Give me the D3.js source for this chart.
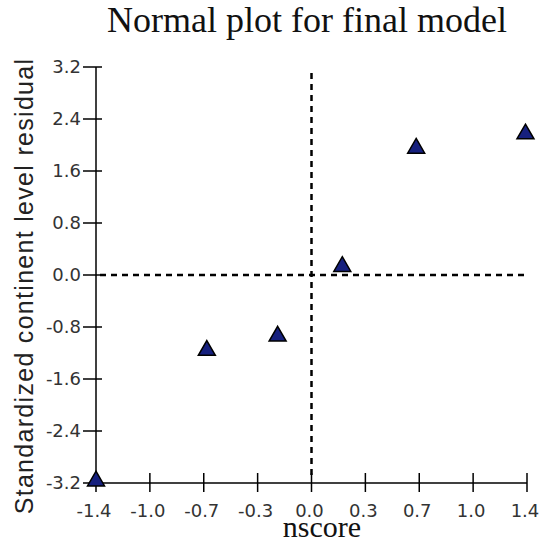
<!DOCTYPE html>
<html>
<head>
<meta charset="utf-8">
<script src="https://cdn.jsdelivr.net/npm/d3@7"></script>
<style>
  body { margin: 0; background: #fff; }
</style>
</head>
<body>
<div id="chart"></div>
<script>
// data
let nscore = [-1.40, -0.68, -0.22, 0.20, 0.68, 1.39];
let residual = [-3.17, -1.16, -0.94, 0.13, 1.95, 2.17];

let x_ticks = [-1.4, -1.05, -0.7, -0.35, 0, 0.35, 0.7, 1.05, 1.4];
let x_tick_labels = ["-1.4", "-1.0", "-0.7", "-0.3", "0.0", "0.3", "0.7", "1.0", "1.4"];
let y_ticks = [3.2, 2.4, 1.6, 0.8, 0.0, -0.8, -1.6, -2.4, -3.2];
let y_tick_labels = ["3.2", "2.4", "1.6", "0.8", "0.0", "-0.8", "-1.6", "-2.4", "-3.2"];

let width = 548, height = 546;
let margin = {left: 96, right: 21, top: 67, bottom: 63};

let svg = d3.select("#chart")
  .append("svg")
  .attr("width", width)
  .attr("height", height);

let x = d3.scaleLinear()
  .domain([-1.4, 1.4])
  .range([margin.left, width - margin.right]);

let y = d3.scaleLinear()
  .domain([-3.2, 3.2])
  .range([height - margin.bottom, margin.top]);

// title
svg.append("text")
  .attr("x", 307)
  .attr("y", 32)
  .style("text-anchor", "middle")
  .style("font-family", "'Liberation Serif', 'Times New Roman', serif")
  .style("font-size", "36px")
  .style("fill", "#111")
  .text("Normal plot for final model");

// reference lines at zero
svg.append("line")
  .attr("x1", x(-1.4) + 4).attr("x2", x(1.4))
  .attr("y1", y(0)).attr("y2", y(0))
  .attr("stroke", "#000")
  .attr("stroke-width", 2.5)
  .attr("stroke-dasharray", "6,5");

svg.append("line")
  .attr("x1", x(0)).attr("x2", x(0))
  .attr("y1", y(3.2) + 6).attr("y2", y(-3.2) - 8)
  .attr("stroke", "#000")
  .attr("stroke-width", 2.5)
  .attr("stroke-dasharray", "6,5");

// y axis
let y_axis = svg.append("g").attr("transform", "translate(" + x(-1.4) + ",0)");
y_axis.append("line")
  .attr("y1", y(3.2)).attr("y2", y(-3.2))
  .attr("stroke", "#000").attr("stroke-width", 1.5);
y_axis.selectAll(".ytick").data(y_ticks)
  .enter().append("line").attr("class", "ytick")
  .attr("x1", -13).attr("x2", 6)
  .attr("y1", d => y(d)).attr("y2", d => y(d))
  .attr("stroke", "#000").attr("stroke-width", 1.5);
y_axis.selectAll(".ylab").data(y_ticks)
  .enter().append("text").attr("class", "ylab")
  .attr("x", -15)
  .attr("y", d => y(d))
  .attr("dy", "0.36em")
  .style("text-anchor", "end")
  .style("font-family", "'DejaVu Sans', sans-serif")
  .style("font-size", "18px")
  .style("fill", "#333")
  .text((d, i) => y_tick_labels[i]);

// x axis
let x_axis = svg.append("g").attr("transform", "translate(0," + y(-3.2) + ")");
x_axis.append("line")
  .attr("x1", x(-1.4)).attr("x2", x(1.4))
  .attr("stroke", "#000").attr("stroke-width", 1.5);
x_axis.selectAll(".xtick").data(x_ticks)
  .enter().append("line").attr("class", "xtick")
  .attr("x1", d => x(d)).attr("x2", d => x(d))
  .attr("y1", -10).attr("y2", 9)
  .attr("stroke", "#000").attr("stroke-width", 1.5);
x_axis.selectAll(".xlab").data(x_ticks)
  .enter().append("text").attr("class", "xlab")
  .attr("x", d => x(d) - 2)
  .attr("y", 34)
  .style("text-anchor", "middle")
  .style("font-family", "'DejaVu Sans', sans-serif")
  .style("font-size", "18px")
  .style("fill", "#333")
  .text((d, i) => x_tick_labels[i]);

// axis titles
svg.append("text")
  .attr("x", 322)
  .attr("y", 537)
  .style("text-anchor", "middle")
  .style("font-family", "'Liberation Serif', 'Times New Roman', serif")
  .style("font-size", "30px")
  .style("fill", "#111")
  .text("nscore");

svg.append("text")
  .attr("transform", "translate(33,286) rotate(-90)")
  .style("text-anchor", "middle")
  .style("font-family", "'Liberation Sans', Arial, sans-serif")
  .style("font-size", "25px")
  .style("letter-spacing", "1.3px")
  .style("fill", "#222")
  .text("Standardized continent level residual");

// points
let pts = nscore.map((d, i) => ({x: d, y: residual[i]}));
svg.selectAll(".pt").data(pts)
  .enter().append("path").attr("class", "pt")
  .attr("d", d3.symbol().type(d3.symbolTriangle).size(125))
  .attr("transform", d => "translate(" + x(d.x) + "," + y(d.y) + ")")
  .attr("fill", "#16207e")
  .attr("stroke", "#000")
  .attr("stroke-width", 1.5);
</script>
</body>
</html>
